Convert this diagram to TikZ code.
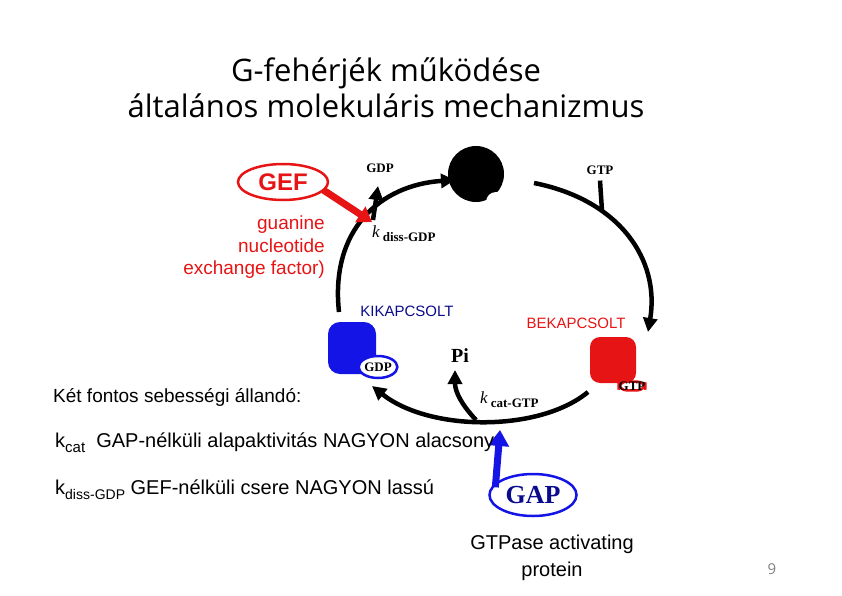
\documentclass[tikz,border=0pt]{standalone}
\usepackage{fontspec}
\setmainfont{Liberation Sans}
\newfontfamily\titlefont{Open Sans}
\newfontfamily\serifb{Liberation Serif}
\usetikzlibrary{arrows.meta,shapes.geometric}
\definecolor{gred}{RGB}{230,20,20}
\definecolor{gblue}{RGB}{20,20,230}
\definecolor{tblue}{RGB}{10,10,140}
\tikzset{
  cyc/.style={line width=4.5pt,black},
  tip/.style={-{Triangle[length=14pt,width=14pt]}},
  lbl/.style={font=\fontsize{18}{20}\selectfont,inner sep=0pt},
  small/.style={font=\serifb\bfseries\fontsize{13}{14}\selectfont,inner sep=0pt},
}
\begin{document}
\begin{tikzpicture}[x=1pt,y=-1pt]
\useasboundingbox (0,0) rectangle (842,596);
\node[font=\titlefont\fontsize{31}{36}\selectfont,align=center] (title) at (386,88) {G-fehérjék működése\\általános molekuláris mechanizmus};
% shapes
\node[fill=black,circle,minimum size=56pt,inner sep=0pt] (gdpfree) at (476,174) {};
\fill[white] (496,202) circle (10);
\node[fill=gblue,rounded corners=12pt,minimum width=48pt,minimum height=52pt] (off) at (352,348) {};
\node[draw=gblue,fill=white,line width=2.5pt,ellipse,inner sep=1pt,minimum width=34pt,minimum height=22pt,small] (ogdp) at (378,367) {GDP};
\node[fill=gred,rounded corners=10pt,minimum width=46pt,minimum height=46pt] (on) at (613,360) {};
\node[draw=gred,fill=white,line width=2.5pt,rounded corners=8pt,inner sep=3pt,small] (ogtp) at (632,386) {GTP};
% cycle
\draw[cyc,tip] (339,312) .. controls (330,230) and (380,185) .. (455,180) coordinate (c1);
\draw[cyc,tip] (534,183) .. controls (620,200) and (660,260) .. (648,332) coordinate (c2);
\draw[cyc,tip] (588,392) .. controls (540,432) and (430,432) .. (372,386) coordinate (c3);
\coordinate (bgdp) at (373,220);
\draw[cyc,tip] (bgdp) -- (378,186) coordinate (gdptop);
\node[small] (gdp) at (380,168) {GDP};
\node[small] (gtp) at (600,170) {GTP};
\draw[cyc] (gtp.south) ++(0,6) -- (602,211) coordinate (gtpj);
\coordinate (bpi) at (476,420);
\draw[cyc,tip] (bpi) .. controls (462,405) and (455,392) .. (455,370) coordinate (pitop);
\node[font=\serifb\bfseries\fontsize{20}{22}\selectfont,inner sep=0pt] (pi) at (460,356) {Pi};
\node[font=\serifb\fontsize{17}{18}\selectfont,anchor=west,inner sep=0pt] (kd) at (372,234) {\textit{k}\,\raisebox{-4pt}{\bfseries\fontsize{13}{14}\selectfont diss-GDP}};
\node[font=\serifb\fontsize{17}{18}\selectfont,anchor=west,inner sep=0pt] (kc) at (480,400) {\textit{k}\,\raisebox{-4pt}{\bfseries\fontsize{13}{14}\selectfont cat-GTP}};
% GEF
\node[draw=gred,line width=2.5pt,ellipse,minimum width=90pt,minimum height=36pt,text=gred,font=\bfseries\fontsize{24}{26}\selectfont] (gef) at (283,182) {GEF};
\draw[gred,line width=7pt,-{Triangle[length=14pt,width=18pt]}] (gef.east) ++(-6,8) coordinate (g0) -- (372,222) coordinate (g1);
\node[text=gred,align=right,anchor=north east,font=\fontsize{19}{22.5}\selectfont,inner sep=0pt] (geft) at (325,216) {guanine\\nucleotide\\exchange factor)};
% GAP
\node[draw=gblue,line width=2.5pt,ellipse,minimum width=82pt,minimum height=42pt,text=tblue,font=\serifb\bfseries\fontsize{26}{28}\selectfont] (gap) at (533,495) {GAP};
\draw[gblue,line width=7pt,-{Triangle[length=16pt,width=20pt]}] (gap.north west) ++(-6,8) -- (500,430) coordinate (gapt);
% labels
\node[lbl,text=tblue,font=\fontsize{15}{16}\selectfont] (kik) at (407,311) {KIKAPCSOLT};
\node[lbl,text=gred,font=\fontsize{15}{16}\selectfont] (bek) at (576,323) {BEKAPCSOLT};
\node[lbl,anchor=west,font=\fontsize{19}{20}\selectfont] (ket) at (53,397) {Két fontos sebességi állandó:};
\node[lbl,anchor=west,font=\fontsize{20}{22}\selectfont] (kcat) at (55,443) {k\raisebox{-5pt}{\fontsize{15}{16}\selectfont cat}\ \ GAP-nélküli alapaktivitás NAGYON alacsony};
\node[lbl,anchor=west,font=\fontsize{20}{22}\selectfont] (kdiss) at (55,490) {k\raisebox{-5pt}{\fontsize{14}{15}\selectfont diss-GDP} GEF-nélküli csere NAGYON lassú};
\node[lbl,align=center,font=\fontsize{20}{27}\selectfont] (gapt2) at (552,558) {GTPase activating\\protein};
\node[lbl,text=gray,font=\titlefont\fontsize{15}{16}\selectfont] (pg) at (772,569) {9};
\end{tikzpicture}
\end{document}
